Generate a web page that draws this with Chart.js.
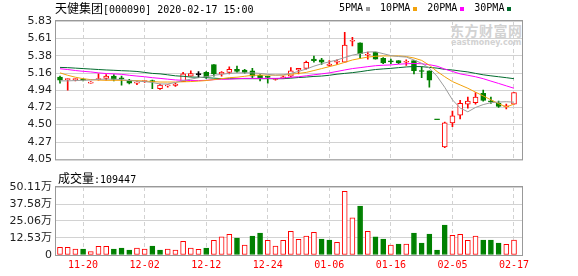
<!DOCTYPE html>
<html>
<head>
<meta charset="utf-8">
<script src="https://cdn.jsdelivr.net/npm/chart.js@4.4.1/dist/chart.umd.min.js"></script>
<style>
  body { margin: 0; background: #fff; }
  #wrap { position: relative; width: 578px; height: 276px; overflow: hidden; }
  canvas { position: absolute; left: 0; }
  .t { position: absolute; font: 10px "DejaVu Sans Mono", monospace; line-height: 12px; color: #000; white-space: nowrap; }
  .c { font: 12px "Noto Sans CJK SC"; line-height: 12px; }
  #legend { position: absolute; left: 339px; top: 2px; display: flex; align-items: center; }
  #legend span { font: 10px "DejaVu Sans Mono", monospace; line-height: 12px; }
  #legend i { display: inline-block; width: 4px; height: 4px; margin: 1px 10px 0 3px; }
  .wm { position: absolute; color: #d2d2d2; white-space: nowrap; }
</style>
</head>
<body>
<div id="wrap">
  <div class="wm" style="left:450px;top:22px;font:bold 14px 'Noto Sans CJK SC';line-height:16px;letter-spacing:0.5px">东方财富网</div>
  <div class="wm" style="left:451px;top:38px;font:bold 8px 'DejaVu Sans';line-height:10px">eastmoney.com</div>
  <canvas id="kline" width="578" height="170" style="top:0"></canvas>
  <canvas id="vol" width="578" height="106" style="top:170px"></canvas>
  <div class="t" style="left:55px;top:2px"><span class="c">天健集团</span>[000090] 2020-02-17 15:00</div>
  <div id="legend"></div>
  <div class="t" style="left:58px;top:172px"><span class="c">成交量</span>:109447</div>
</div>
<script>
// 天健集团 日K + 成交量

const dates = [
  "11-15", "11-18", "11-19", "11-20", "11-21", "11-22", "11-25", "11-26", "11-27", "11-28",
  "11-29", "12-02", "12-03", "12-04", "12-05", "12-06", "12-09", "12-10", "12-11", "12-12",
  "12-13", "12-16", "12-17", "12-18", "12-19", "12-20", "12-23", "12-24", "12-25", "12-26",
  "12-27", "12-30", "12-31", "01-02", "01-03", "01-06", "01-07", "01-08", "01-09", "01-10",
  "01-13", "01-14", "01-15", "01-16", "01-17", "01-20", "01-21", "01-22", "01-23", "02-03",
  "02-04", "02-05", "02-06", "02-07", "02-10", "02-11", "02-12", "02-13", "02-14", "02-17",
];

const opens = [
  5.11, 5.075, 5.075, 5.08, 5.03, 5.075, 5.09, 5.12, 5.095, 5.07,
  5.03, 5.05, 5.065, 4.96, 4.995, 5.0, 5.05, 5.12, 5.14, 5.17,
  5.27, 5.15, 5.17, 5.21, 5.2, 5.19, 5.13, 5.115, 5.08, 5.1,
  5.12, 5.2, 5.22, 5.34, 5.33, 5.26, 5.3, 5.3, 5.57, 5.55,
  5.39, 5.43, 5.35, 5.31, 5.32, 5.3, 5.32, 5.19, 5.19, 4.565,
  4.21, 4.52, 4.62, 4.76, 4.78, 4.9, 4.8, 4.77, 4.725, 4.76,
];
const highs = [
  5.12, 5.09, 5.09, 5.09, 5.05, 5.15, 5.14, 5.14, 5.12, 5.08,
  5.05, 5.06, 5.07, 5.02, 5.01, 5.03, 5.17, 5.19, 5.18, 5.18,
  5.27, 5.18, 5.24, 5.25, 5.21, 5.22, 5.14, 5.12, 5.09, 5.12,
  5.23, 5.22, 5.315, 5.38, 5.35, 5.32, 5.33, 5.685, 5.62, 5.55,
  5.43, 5.43, 5.36, 5.34, 5.32, 5.33, 5.32, 5.24, 5.19, 4.565,
  4.53, 4.67, 4.81, 4.85, 4.91, 4.94, 4.85, 4.8, 4.76, 4.91,
];
const lows = [
  5.03, 4.94, 5.06, 5.06, 5.03, 5.07, 5.07, 5.06, 5.005, 5.02,
  5.01, 5.04, 4.96, 4.95, 4.98, 4.99, 5.05, 5.12, 5.1, 5.09,
  5.12, 5.12, 5.15, 5.17, 5.16, 5.1, 5.06, 5.03, 5.07, 5.09,
  5.11, 5.15, 5.21, 5.3, 5.27, 5.25, 5.27, 5.3, 5.51, 5.35,
  5.34, 5.34, 5.28, 5.28, 5.28, 5.26, 5.15, 5.1, 4.98, 4.56,
  4.2, 4.47, 4.57, 4.71, 4.76, 4.8, 4.77, 4.72, 4.7, 4.76,
];
const closes = [
  5.07, 5.08, 5.08, 5.07, 5.045, 5.08, 5.12, 5.08, 5.085, 5.03,
  5.035, 5.055, 5.05, 5.005, 5.005, 5.02, 5.15, 5.155, 5.14, 5.11,
  5.15, 5.17, 5.21, 5.18, 5.17, 5.12, 5.1, 5.105, 5.085, 5.11,
  5.19, 5.22, 5.3, 5.32, 5.3, 5.275, 5.305, 5.52, 5.58, 5.41,
  5.4, 5.34, 5.29, 5.305, 5.29, 5.305, 5.19, 5.18, 5.07, 4.56,
  4.52, 4.61, 4.77, 4.8, 4.85, 4.81, 4.79, 4.73, 4.73, 4.91,
];

const ma5 = [
  5.06, 5.06, 5.064, 5.067, 5.07, 5.08, 5.082, 5.082, 5.076, 5.064,
  5.057, 5.051, 5.039, 5.02, 5.02, 5.039, 5.064, 5.082, 5.101, 5.113,
  5.132, 5.144, 5.156, 5.163, 5.163, 5.163, 5.156, 5.144, 5.134, 5.138,
  5.156, 5.181, 5.212, 5.249, 5.28, 5.305, 5.329, 5.36, 5.391, 5.41,
  5.431, 5.434, 5.41, 5.385, 5.373, 5.366, 5.329, 5.286, 5.224, 5.119,
  4.977, 4.816, 4.711, 4.662, 4.718, 4.755, 4.779, 4.788, 4.792, 4.786,
];
const ma10 = [
  5.163, 5.132, 5.107, 5.088, 5.076, 5.07, 5.067, 5.067, 5.067, 5.064,
  5.064, 5.057, 5.051, 5.045, 5.045, 5.045, 5.048, 5.051, 5.057, 5.064,
  5.076, 5.088, 5.101, 5.107, 5.119, 5.132, 5.134, 5.134, 5.134, 5.134,
  5.144, 5.156, 5.169, 5.193, 5.218, 5.243, 5.268, 5.298, 5.329, 5.348,
  5.366, 5.376, 5.381, 5.381, 5.381, 5.373, 5.354, 5.323, 5.261, 5.181,
  5.113, 5.051, 5.008, 4.965, 4.915, 4.866, 4.816, 4.767, 4.724, 4.761,
];
const ma20 = [
  5.216, 5.206, 5.193, 5.183, 5.175, 5.163, 5.154, 5.15, 5.144, 5.132,
  5.122, 5.113, 5.101, 5.092, 5.082, 5.072, 5.067, 5.064, 5.064, 5.067,
  5.076, 5.08, 5.082, 5.088, 5.092, 5.092, 5.092, 5.092, 5.092, 5.095,
  5.107, 5.113, 5.125, 5.138, 5.15, 5.163, 5.181, 5.2, 5.218, 5.23,
  5.243, 5.255, 5.261, 5.265, 5.274, 5.28, 5.284, 5.28, 5.268, 5.249,
  5.212, 5.181, 5.15, 5.132, 5.113, 5.088, 5.057, 5.027, 4.996, 4.965,
];
const ma30 = [
  5.233, 5.23, 5.224, 5.218, 5.212, 5.206, 5.2, 5.196, 5.191, 5.187,
  5.181, 5.169, 5.156, 5.15, 5.138, 5.125, 5.119, 5.109, 5.107, 5.101,
  5.095, 5.088, 5.088, 5.088, 5.088, 5.088, 5.088, 5.088, 5.088, 5.088,
  5.095, 5.103, 5.109, 5.117, 5.122, 5.132, 5.146, 5.156, 5.166, 5.178,
  5.193, 5.206, 5.214, 5.221, 5.23, 5.239, 5.245, 5.243, 5.233, 5.224,
  5.208, 5.2, 5.187, 5.175, 5.156, 5.138, 5.125, 5.113, 5.101, 5.088,
];

const volumes = [
  56000, 56000, 44000, 44000, 25000, 64000, 64000, 44000, 51000, 37000,
  51000, 44000, 66000, 37000, 44000, 37000, 100000, 51000, 42000, 51000,
  108000, 133000, 152000, 125000, 74000, 140000, 162000, 108000, 66000, 108000,
  174000, 115000, 140000, 167000, 118000, 110000, 93000, 469000, 273000, 361000,
  174000, 133000, 118000, 74000, 81000, 81000, 162000, 88000, 155000, 37000,
  221000, 145000, 152000, 108000, 140000, 110000, 110000, 88000, 79000, 109447,
];
// 1 = 红(涨) 0 = 绿(跌)
const volUp = [
  1, 1, 1, 0, 1, 1, 1, 0, 0, 0,
  1, 1, 0, 0, 1, 1, 1, 1, 1, 0,
  1, 1, 1, 0, 1, 0, 0, 1, 1, 1,
  1, 1, 1, 1, 0, 0, 1, 1, 1, 0,
  1, 0, 0, 1, 0, 1, 0, 0, 0, 0,
  0, 1, 1, 1, 1, 0, 0, 0, 1, 1,
];

const priceTicks = [4.05, 4.27, 4.5, 4.72, 4.94, 5.16, 5.38, 5.61, 5.83];
const volTicks = [0, 125300, 250600, 375800, 501100];
const labelIdx = [3, 11, 19, 27, 35, 43, 51, 59];

const maNames = ["5PMA", "10PMA", "20PMA", "30PMA"];
const maColors = ["#9c9c9c", "#f2a20c", "#ff00ff", "#006b2d"];

const RED = "#ff0000";
const GREEN = "#008000";
const GRID = "#d2d2d2";
const AXIS_FONT = { family: "'DejaVu Sans', 'Noto Sans CJK SC', sans-serif", size: 11 };

const framePlugin = {
  id: "frame",
  afterDraw(chart) {
    const { ctx, chartArea: a } = chart;
    ctx.save();
    ctx.strokeStyle = "#999";
    ctx.lineWidth = 1;
    ctx.strokeRect(a.left - 0.5, a.top - 0.5, a.right - a.left + 1, a.bottom - a.top + 1);
    ctx.restore();
  },
};

function xScale(showLabels) {
  return {
    type: "linear",
    min: -0.52,
    max: 60.04,
    offset: false,
    afterBuildTicks: (s) => { s.ticks = labelIdx.map((v) => ({ value: v })); },
    afterFit: (s) => { s.height = showLabels ? 21 : 0; },
    ticks: {
      display: showLabels,
      autoSkip: false,
      maxRotation: 0,
      padding: 4,
      color: RED,
      font: { family: "'DejaVu Sans Mono', monospace", size: 10 },
      callback: (v) => dates[v],
    },
    grid: { color: GRID, drawTicks: false, offset: false },
    border: { display: false, dash: [4, 3] },
  };
}

function candleColor(i) {
  if (closes[i] > opens[i]) return RED;
  if (closes[i] < opens[i]) return GREEN;
  return "#000";
}

const idx = dates.map((_, i) => i);
const candleCol = idx.map(candleColor);

const maSets = [ma5, ma10, ma20, ma30].map((arr, k) => ({
  type: "line",
  label: maNames[k],
  data: arr.map((v, i) => ({ x: i, y: v })),
  borderColor: maColors[k],
  borderWidth: 1,
  pointRadius: 0,
  tension: 0,
  order: 0,
}));

new Chart(document.getElementById("kline"), {
  type: "bar",
  data: {
    datasets: [
      ...maSets,
      {
        label: "body",
        data: idx.map((i) => ({ x: i, y: [opens[i], closes[i]] })),
        backgroundColor: idx.map((i) => (closes[i] > opens[i] ? "#fff" : candleCol[i])),
        borderColor: candleCol,
        borderWidth: 1,
        borderSkipped: false,
        barThickness: 5,
        minBarLength: 1,
        grouped: false,
        order: 1,
      },
      {
        label: "wick",
        data: idx.map((i) => ({ x: i, y: [lows[i], highs[i]] })),
        backgroundColor: candleCol,
        borderWidth: 0,
        barThickness: 1,
        grouped: false,
        order: 2,
      },
    ],
  },
  options: {
    responsive: false,
    animation: false,
    events: [],
    layout: { padding: { left: 0, right: 56, top: 21, bottom: 5 } },
    plugins: { legend: { display: false }, tooltip: { enabled: false } },
    scales: {
      x: xScale(false),
      y: {
        min: 4.05,
        max: 5.83,
        afterBuildTicks: (s) => { s.ticks = priceTicks.map((v) => ({ value: v })); },
        afterFit: (s) => { s.width = 56; },
        ticks: { color: "#222", font: AXIS_FONT, padding: 4, callback: (v) => v.toFixed(2) },
        grid: { color: GRID, drawTicks: false },
        border: { display: false },
      },
    },
  },
  plugins: [framePlugin],
});

new Chart(document.getElementById("vol"), {
  type: "bar",
  data: {
    datasets: [
      {
        label: "成交量",
        data: idx.map((i) => ({ x: i, y: volumes[i] })),
        backgroundColor: volUp.map((u) => (u ? "#fff" : GREEN)),
        borderColor: volUp.map((u) => (u ? RED : GREEN)),
        borderWidth: 1,
        borderSkipped: false,
        barThickness: 5,
      },
    ],
  },
  options: {
    responsive: false,
    animation: false,
    events: [],
    layout: { padding: { left: 0, right: 56, top: 17, bottom: 0 } },
    plugins: { legend: { display: false }, tooltip: { enabled: false } },
    scales: {
      x: xScale(true),
      y: {
        min: 0,
        max: 501100,
        afterBuildTicks: (s) => { s.ticks = volTicks.map((v) => ({ value: v })); },
        afterFit: (s) => { s.width = 56; },
        ticks: {
          color: "#222",
          font: AXIS_FONT,
          padding: 4,
          callback: (v) => (v === 0 ? "0" : (v / 10000).toFixed(2) + "万"),
        },
        grid: { color: GRID, drawTicks: false },
        border: { display: false },
      },
    },
  },
  plugins: [framePlugin],
});

// 图例: 文字在前, 色块在后
const legend = document.getElementById("legend");
maNames.forEach((name, k) => {
  const s = document.createElement("span");
  s.textContent = name;
  const b = document.createElement("i");
  b.style.background = maColors[k];
  legend.appendChild(s);
  legend.appendChild(b);
});
</script>
</body>
</html>
